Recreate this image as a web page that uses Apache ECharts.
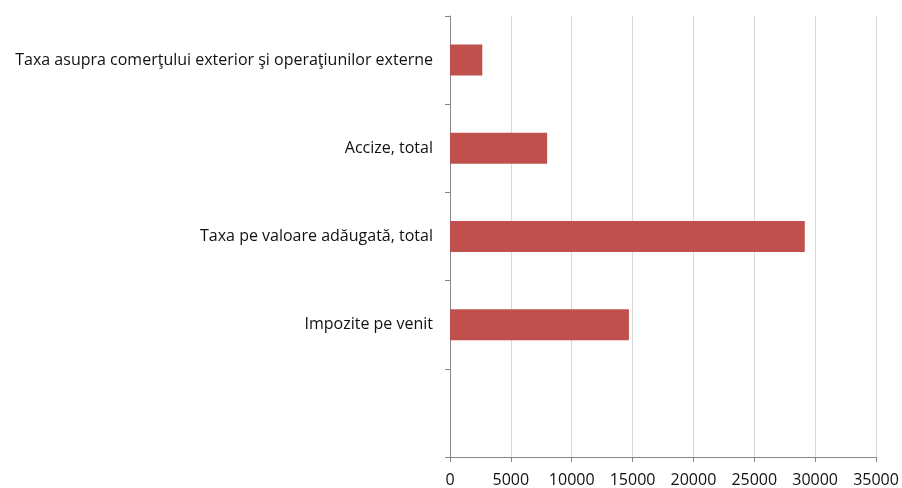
<!DOCTYPE html>
<html><head><meta charset="utf-8">
<script src="https://cdn.jsdelivr.net/npm/echarts@6/dist/echarts.min.js"></script>
<style>html,body{margin:0;padding:0;background:#fff}#c{width:902px;height:488px}</style>
</head><body><div id="c"></div>
<script>
const categories = ['', 'Impozite pe venit', 'Taxa pe valoare adăugată, total', 'Accize, total', 'Taxa asupra comerţului exterior şi operaţiunilor externe'];
const values = [null, 14700, 29150, 7980, 2650];
const xTicks = { min: 0, max: 35000, interval: 5000 };

const chart = echarts.init(document.getElementById('c'), null, {renderer: 'canvas'});
const font = 'Open Sans, Liberation Sans, sans-serif';
chart.setOption({
  animation: false,
  grid: { left: 450, right: 26, top: 16, bottom: 31, containLabel: false },
  xAxis: {
    type: 'value', min: xTicks.min, max: xTicks.max, interval: xTicks.interval,
    axisLine: { show: true, lineStyle: { color: '#868686', width: 1 } },
    axisTick: { show: true, length: 5, lineStyle: { color: '#868686' } },
    axisLabel: { color: '#111', fontSize: 16, fontFamily: font, margin: 15, formatter: v => String(v) },
    splitLine: { show: true, lineStyle: { color: '#d9d9d9', width: 1 } }
  },
  yAxis: {
    type: 'category', data: categories,
    axisLine: { show: true, lineStyle: { color: '#868686', width: 1 } },
    axisTick: { show: true, length: 5, alignWithLabel: false, lineStyle: { color: '#868686' } },
    axisLabel: { color: '#111', fontSize: 16, fontFamily: font, margin: 17 },
    splitLine: { show: false }
  },
  series: [{
    type: 'bar', data: values, barWidth: 31,
    itemStyle: { color: '#c0504d' }
  }]
});
</script></body></html>
